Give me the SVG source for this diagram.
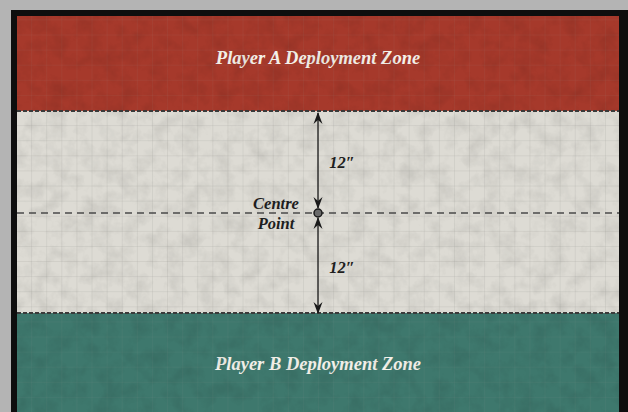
<svg xmlns="http://www.w3.org/2000/svg" width="628" height="412" viewBox="0 0 628 412">
<defs>
<style>
.zone{font-family:"Liberation Serif","DejaVu Serif",serif;font-style:italic;font-weight:bold;font-size:18.5px;fill:#f4f1ea;text-anchor:middle}
.lbl{font-family:"Liberation Serif","DejaVu Serif",serif;font-style:italic;font-weight:bold;font-size:16.5px;fill:#1e1e1e;text-anchor:middle}
.conn{stroke:#1a1a1a;stroke-width:1.3;fill:none}
.dash{stroke:#4a4a4a;stroke-width:1.3;stroke-dasharray:7 5;fill:none}
.edge{stroke:#3a3a3a;stroke-width:2;stroke-dasharray:4 2;fill:none}
</style>
<pattern id="grid" width="15.1" height="15.1" patternUnits="userSpaceOnUse" x="17" y="111">
<path d="M15.1 0V15.1M0 15.1H15.1" stroke="#9a9a96" stroke-width="0.6" fill="none" opacity="0.6"/>
</pattern>
<filter id="grunge" x="0" y="0" width="100%" height="100%">
<feTurbulence type="fractalNoise" baseFrequency="0.06" numOctaves="4" seed="3" result="n"/>
<feColorMatrix type="matrix" values="0 0 0 0 0  0 0 0 0 0  0 0 0 0 0  0 0 0 -0.9 0.55"/>
</filter>
<marker id="ah" viewBox="0 0 12 12" refX="11" refY="6" markerWidth="12" markerHeight="12" orient="auto-start-reverse" markerUnits="userSpaceOnUse">
<path d="M0 1.5L12 6L0 10.5L4 6Z" fill="#1a1a1a"/>
</marker>
</defs>
<rect width="628" height="412" fill="#b4b4b4"/>
<rect x="11" y="10" width="617" height="402" fill="#0e0e0e"/>
<g id="zoneA">
<rect x="17" y="16" width="602" height="95" fill="#a6392b"/>
<rect x="17" y="16" width="602" height="95" fill="url(#grid)" opacity="0.4"/>
<text class="zone" x="318" y="64">Player A Deployment Zone</text>
</g>
<g id="noMansLand">
<rect x="17" y="111" width="602" height="202" fill="#dddbd4"/>
<rect x="17" y="111" width="602" height="202" fill="url(#grid)"/>
</g>
<g id="zoneB">
<rect x="17" y="313" width="602" height="99" fill="#3e786d"/>
<rect x="17" y="313" width="602" height="99" fill="url(#grid)" opacity="0.4"/>
<text class="zone" x="318" y="370">Player B Deployment Zone</text>
</g>
<rect x="17" y="16" width="602" height="396" filter="url(#grunge)" opacity="0.18"/>
<path class="edge" d="M17 111H619M17 313H619"/>
<g id="connectors">
<path class="dash" d="M17 213H619"/>
<path class="conn" d="M318 113V208" marker-start="url(#ah)" marker-end="url(#ah)"/>
<path class="conn" d="M318 218V313" marker-start="url(#ah)" marker-end="url(#ah)"/>
</g>
<g id="centrePoint">
<circle cx="318" cy="213" r="4" fill="#6a6a6a" stroke="#1a1a1a" stroke-width="1.5"/>
<text class="lbl" x="276" y="209">Centre</text>
<text class="lbl" x="276" y="229">Point</text>
</g>
<g id="dist1"><text class="lbl" x="342" y="168">12″</text></g>
<g id="dist2"><text class="lbl" x="342" y="273">12″</text></g>
</svg>
